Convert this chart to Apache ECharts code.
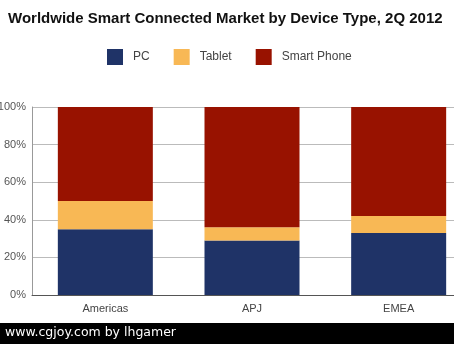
<!DOCTYPE html>
<html><head><meta charset="utf-8">
<script src="https://cdn.jsdelivr.net/npm/echarts@6/dist/echarts.min.js"></script>
<style>html,body{margin:0;padding:0;background:#fff}#c{width:454px;height:344px}</style>
</head><body><div id="c"></div>
<script>
const categories = ['Americas', 'APJ', 'EMEA'];
const pc = [35, 29, 33];
const tablet = [15, 7, 9];
const smartPhone = [50, 64, 58];
const yTicks = ['0%', '20%', '40%', '60%', '80%', '100%'];

const chart = echarts.init(document.getElementById('c'), null, {renderer: 'canvas'});
const font = 'Liberation Sans, Arial, sans-serif';
const mk = (name, data, color) => ({
  name, type: 'bar', stack: 'a', data, barWidth: 95,
  itemStyle: {color}, emphasis: {disabled: true}
});
chart.setOption({
  animation: false,
  textStyle: {fontFamily: font},
  title: {
    text: 'Worldwide Smart Connected Market by Device Type, 2Q 2012',
    left: 3, top: 6,
    textStyle: {fontSize: 15, fontWeight: 'bold', color: '#111', fontFamily: font}
  },
  legend: {
    top: 44, left: 102, itemWidth: 16, itemHeight: 16, itemGap: 24,
    icon: 'rect',
    textStyle: {fontSize: 12, color: '#444', padding: [0, 0, 0, 5], fontFamily: font},
    data: ['PC', 'Tablet', 'Smart Phone']
  },
  grid: {left: 32, top: 107, height: 188, width: 440, containLabel: false, outerBoundsMode: 'none'},
  xAxis: {
    type: 'category', data: categories,
    axisLine: {lineStyle: {color: '#555'}},
    axisTick: {show: false},
    axisLabel: {color: '#444', fontSize: 11, margin: 8}
  },
  yAxis: {
    type: 'value', min: 0, max: 100, interval: 20,
    axisLine: {show: true, lineStyle: {color: '#999'}},
    axisTick: {show: false},
    splitLine: {lineStyle: {color: '#bbb'}},
    axisLabel: {color: '#555', fontSize: 11, margin: 6,
      formatter: v => yTicks[v / 20]}
  },
  series: [
    mk('PC', pc, '#1f3367'),
    mk('Tablet', tablet, '#f8b855'),
    mk('Smart Phone', smartPhone, '#981200')
  ],
  graphic: [
    {type: 'rect', left: 0, top: 323, shape: {width: 454, height: 21}, style: {fill: '#000'}},
    {type: 'text', left: 5, top: 326, style: {text: 'www.cgjoy.com by lhgamer', fill: '#fff', fontSize: 12.5, fontFamily: 'DejaVu Sans, sans-serif'}}
  ]
});
</script></body></html>
